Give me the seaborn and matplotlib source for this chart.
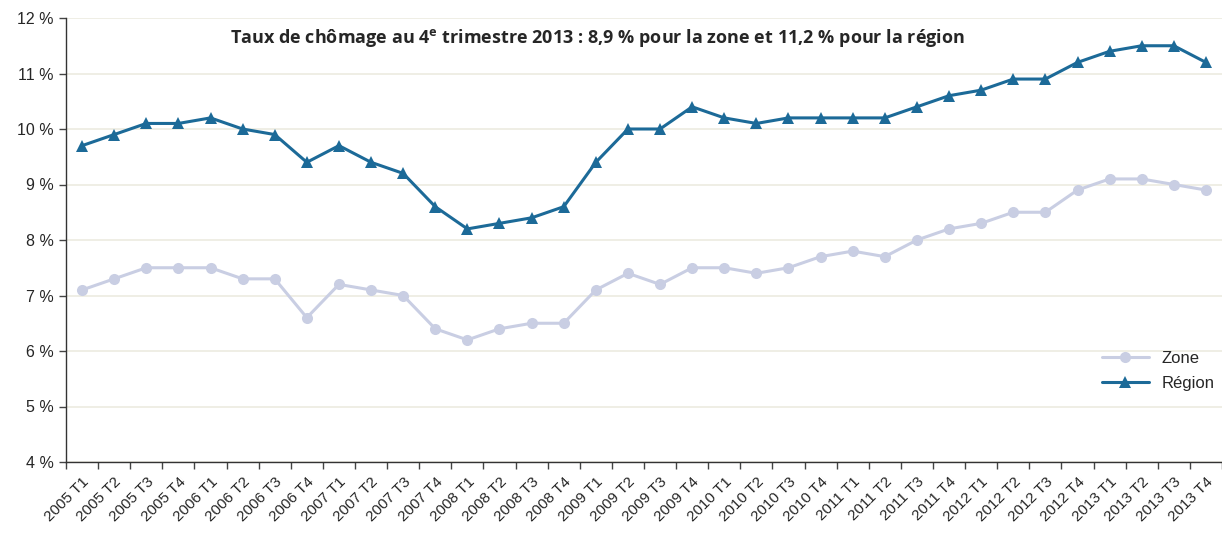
import seaborn as sns
import matplotlib.pyplot as plt
import pandas as pd

# data
quarters = [f"{y} T{q}" for y in range(2005, 2014) for q in range(1, 5)]
zone = [7.1, 7.3, 7.5, 7.5, 7.5, 7.3, 7.3, 6.6, 7.2, 7.1, 7.0, 6.4,
        6.2, 6.4, 6.5, 6.5, 7.1, 7.4, 7.2, 7.5, 7.5, 7.4, 7.5, 7.7,
        7.8, 7.7, 8.0, 8.2, 8.3, 8.5, 8.5, 8.9, 9.1, 9.1, 9.0, 8.9]
region = [9.7, 9.9, 10.1, 10.1, 10.2, 10.0, 9.9, 9.4, 9.7, 9.4, 9.2, 8.6,
          8.2, 8.3, 8.4, 8.6, 9.4, 10.0, 10.0, 10.4, 10.2, 10.1, 10.2, 10.2,
          10.2, 10.2, 10.4, 10.6, 10.7, 10.9, 10.9, 11.2, 11.4, 11.5, 11.5, 11.2]
yticks = [4, 5, 6, 7, 8, 9, 10, 11, 12]

df = pd.DataFrame({"pos": range(len(quarters)), "Zone": zone, "Région": region})

sns.set_theme(style="white")
plt.rcParams["font.family"] = ["Liberation Sans", "DejaVu Sans"]

fig = plt.figure(figsize=(12.22, 5.36), dpi=100)
ax = fig.add_axes([66 / 1222, 1 - 462 / 536, 1 - 66 / 1222, (462 - 18) / 536])

sns.lineplot(data=df, x="pos", y="Zone", ax=ax, color="#c9cee3", linewidth=2.2,
             marker="o", markersize=8, markeredgewidth=0, label="Zone")
sns.lineplot(data=df, x="pos", y="Région", ax=ax, color="#1c6a98", linewidth=2.2,
             marker="^", markersize=8, markeredgewidth=0, label="Région")

ax.set_xlim(-0.5, len(quarters) - 0.5)
ax.set_ylim(4, 12)
ax.set_yticks(yticks)
ax.set_yticklabels([f"{t} %" for t in yticks], fontsize=11.5)
ax.set_xticks(range(len(quarters)))
ax.set_xticklabels(quarters, rotation=45, ha="right", rotation_mode="anchor", fontsize=11)
ax.set_xticks([i - 0.5 for i in range(len(quarters) + 1)], minor=True)
ax.tick_params(axis="x", which="major", length=0, pad=9)
ax.tick_params(axis="x", which="minor", length=5, width=1, color="#444444", direction="out")
ax.tick_params(axis="y", length=5, width=1, color="#444444", direction="out", pad=4)
ax.xaxis.set_ticks_position("bottom")
ax.yaxis.set_ticks_position("left")
ax.set_xlabel("")
ax.set_ylabel("")

ax.grid(axis="y", color="#ecebe0", linewidth=1.2)
ax.set_axisbelow(True)
for s in ["top", "right"]:
    ax.spines[s].set_visible(False)
for s in ["left", "bottom"]:
    ax.spines[s].set_color("#333333")
    ax.spines[s].set_linewidth(1)

ax.text(0.46, 0.955, "Taux de chômage au 4$^{\\mathregular{e}}$ trimestre 2013 : 8,9 % pour la zone et 11,2 % pour la région",
        transform=ax.transAxes, ha="center", va="center", fontsize=13,
        fontweight="bold", family=["Open Sans", "DejaVu Sans"])

ax.legend(loc="center", bbox_to_anchor=(0.945, 0.205), frameon=False, fontsize=12,
          handlelength=2.8, labelspacing=0.6)

fig.savefig("out.png", dpi=100)
